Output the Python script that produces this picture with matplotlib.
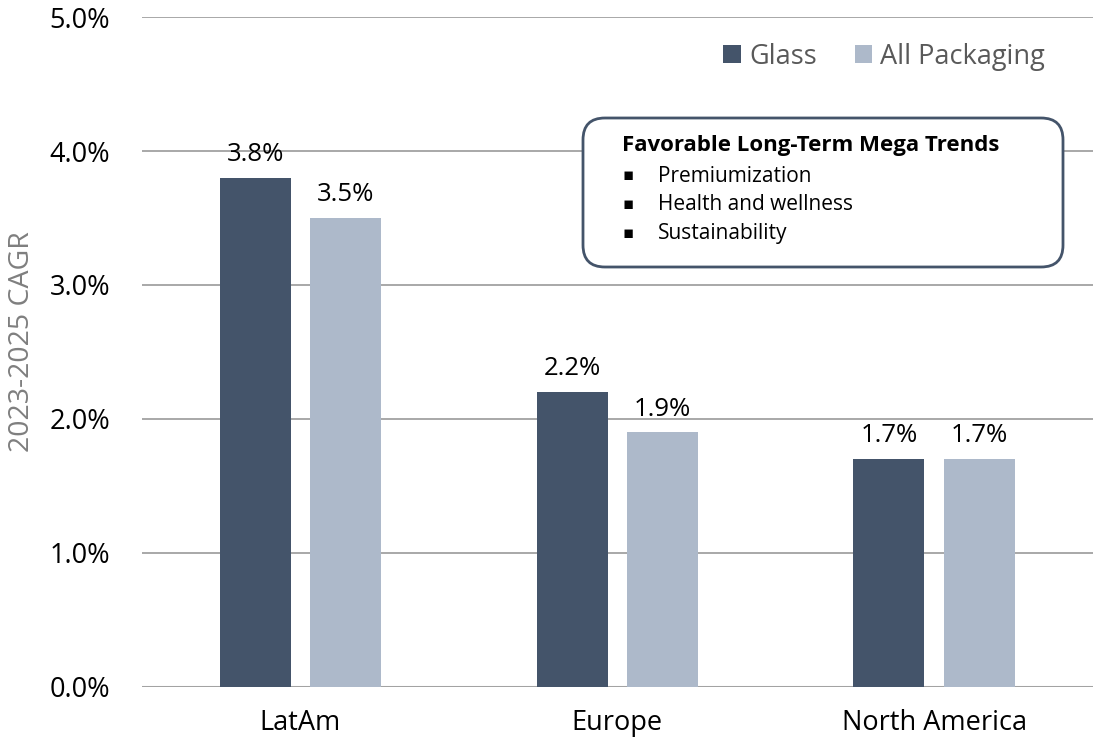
import numpy as np
import matplotlib.pyplot as plt
from matplotlib.patches import FancyBboxPatch

regions = ["LatAm", "Europe", "North America"]
glass = [3.8, 2.2, 1.7]
all_packaging = [3.5, 1.9, 1.7]
series_names = ["Glass", "All Packaging"]
trends_title = "Favorable Long-Term Mega Trends"
trends = ["Premiumization", "Health and wellness", "Sustainability"]

c_glass = "#44546a"
c_pack = "#adb9ca"
W, H = 1094, 743

plt.rcParams["font.family"] = ["Open Sans", "DejaVu Sans"]

fig = plt.figure(figsize=(W / 100, H / 100), dpi=100)
ax = fig.add_axes([0.1298, 0.0754, 0.869, 0.9017])

x = np.arange(len(regions))
w = 0.224
off = 0.143
b1 = ax.bar(x - off, glass, w, color=c_glass, label=series_names[0], zorder=3)
b2 = ax.bar(x + off, all_packaging, w, color=c_pack, label=series_names[1], zorder=3)

# value labels above each bar
for bars, vals in ((b1, glass), (b2, all_packaging)):
    for r, v in zip(bars, vals):
        ax.text(r.get_x() + r.get_width() / 2, v + 0.08, f"{v:.1f}%",
                ha="center", va="bottom", fontsize=18.5, color="black")

ax.set_xlim(-0.5, 2.5)
ax.set_ylim(0, 5.0)
yt = np.arange(0, 5.01, 1.0)
ax.set_yticks(yt)
ax.set_yticklabels([f"{t:.1f}%" for t in yt])
ax.set_xticks(x)
ax.set_xticklabels(regions)
ax.tick_params(axis="both", length=0, labelsize=19.5, colors="black")
ax.tick_params(axis="y", pad=23)
ax.tick_params(axis="x", pad=16)
ax.grid(axis="y", color="#9a9a9a", linewidth=1.2, zorder=0)
for s in ax.spines.values():
    s.set_visible(False)
ax.axhline(0, color="#d0d0d0", linewidth=1.5, zorder=1)

ax.set_ylabel("2023-2025 CAGR", fontsize=20.5, color="#7f7f7f")
ax.yaxis.set_label_coords(-0.112, 0.515)

ax.legend(loc="upper right", bbox_to_anchor=(0.97, 0.99), ncol=2, frameon=False,
          fontsize=19.5, handlelength=0.65, handleheight=0.65, columnspacing=1.4,
          handletextpad=0.3, labelcolor="#595959", borderaxespad=0.3)

# callout box listing the long-term trends (pixel positions converted to figure coords)
fig.patches.append(FancyBboxPatch((583 / W, 1 - 267 / H), 480 / W, 149 / H,
                                  boxstyle="round,pad=0,rounding_size=0.02",
                                  transform=fig.transFigure, facecolor="white",
                                  edgecolor=c_glass, linewidth=2, zorder=5,
                                  mutation_aspect=W / H))
fig.text(622 / W, 1 - 145 / H, trends_title, fontsize=16, fontweight="bold",
         va="center", ha="left", zorder=6)
for i, t in enumerate(trends):
    yy = 1 - (176 + i * 29) / H
    fig.text(623 / W, yy, "\u25aa", fontsize=12, va="center", ha="left", zorder=6)
    fig.text(658 / W, yy, t, fontsize=15, va="center", ha="left", zorder=6)

fig.savefig("out.png", dpi=100)
